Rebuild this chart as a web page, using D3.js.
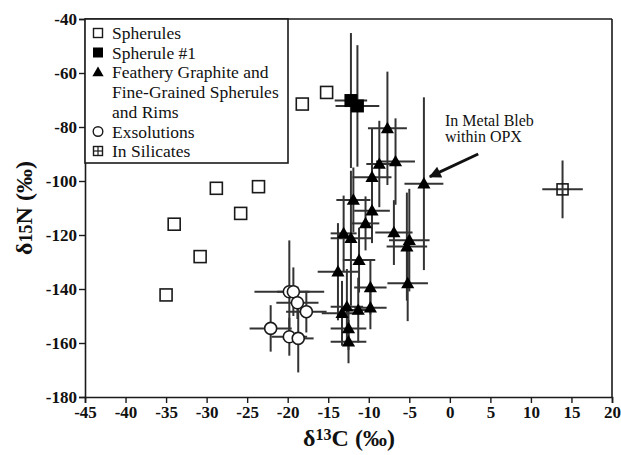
<!DOCTYPE html>
<html><head><meta charset="utf-8">
<script src="https://cdn.jsdelivr.net/npm/d3@7"></script>
<style>body{margin:0;background:#fff}svg{display:block}</style>
</head><body>
<svg id="c" width="621" height="455"></svg>
<script>
// Data: [d13C, d15N, xErr, yErr]
const spherules = [[-28.8,-102.7],[-23.6,-102.1],[-25.8,-112],[-34.0,-116],[-30.8,-128],[-35.0,-142.2],[-18.2,-71.5],[-15.2,-67.2]];
const spherule1 = [[-12.2,-70.2,2.0,25],[-11.4,-72.2,2.7,22.5]];
const feathery = [
 [-7.7,-80.5,2.4,21],[-8.7,-93.7,1.6,16],[-6.7,-92.8,2.4,16],[-9.6,-98.6,2.4,18],
 [-11.9,-107,2.1,12],[-9.6,-111,2.2,12],[-10.4,-115.7,1.7,10],[-13.1,-119.4,1.6,14],
 [-12.2,-121.2,2.5,25],[-6.9,-119.1,2.3,12],[-5.0,-121.9,2.5,19],[-5.3,-124.3,2.5,20],
 [-11.2,-129.3,2.0,12],[-13.8,-133.6,2.5,18],[-9.8,-139.4,2.0,10],[-5.2,-137.9,2.5,14],
 [-9.8,-146.9,2.0,8],[-12.7,-146.6,2.0,14],[-11.3,-147.8,2.0,12],[-13.3,-149,2.5,12],
 [-12.5,-154.6,2.2,8],[-12.5,-159.5,2.2,8],[-3.2,-101,2.4,32]
];
const exsolutions = [[-19.8,-141,4.3,19],[-19.3,-141,2.0,9],[-18.8,-145.1,2.6,6],[-17.7,-148.4,2.5,7.7],[-22.1,-154.6,2.6,8.6],[-19.8,-157.7,2.2,7],[-18.7,-158.3,1.9,12.6]];
const silicates = [[13.9,-103.1,2.5,10.7]];
const xTicks = [-45,-40,-35,-30,-25,-20,-15,-10,-5,0,5,10,15,20];
const yTicks = [-40,-60,-80,-100,-120,-140,-160,-180];
const legendLabels = [["Spherules"],["Spherule #1"],["Feathery Graphite and","Fine-Grained Spherules","and Rims"],["Exsolutions"],["In Silicates"]];
const annotation = ["In Metal Bleb","within OPX"];

const svg = d3.select("#c");
const L=85,R=612,T=19,B=397;
const x = d3.scaleLinear().domain([-45,20]).range([L,R]);
const y = d3.scaleLinear().domain([-180,-40]).range([B,T]);
const ink="#1a1a1a", bar="#333";
const serif="'Liberation Serif','Times New Roman',serif";
const fmt = d => String(d);

// axes
const xa = svg.append("g").attr("transform",`translate(0,${B})`).call(d3.axisBottom(x).tickValues(xTicks).tickFormat(fmt).tickSize(6).tickPadding(3));
const ya = svg.append("g").attr("transform",`translate(${L},0)`).call(d3.axisLeft(y).tickValues(yTicks).tickFormat(fmt).tickSize(6).tickPadding(2));
[xa,ya].forEach(a=>{a.attr("font-family",serif).attr("font-size",17).attr("font-weight","bold");
 a.select(".domain").attr("stroke",ink).attr("stroke-width",1.6);
 a.selectAll(".tick line").attr("stroke",ink).attr("stroke-width",1.4);
 a.selectAll("text").attr("fill","#111");});
// frame top/right
svg.append("line").attr("x1",L).attr("x2",R).attr("y1",T).attr("y2",T).attr("stroke",ink).attr("stroke-width",1.6);
svg.append("line").attr("x1",R).attr("x2",R).attr("y1",T).attr("y2",B).attr("stroke",ink).attr("stroke-width",1.6);

// axis titles
const xt = svg.append("text").attr("x",349).attr("y",446).attr("text-anchor","middle").attr("font-family",serif).attr("font-weight","bold").attr("font-size",24).attr("fill","#111");
xt.append("tspan").text("δ");
xt.append("tspan").attr("font-size",16).attr("dy",-6).text("13");
xt.append("tspan").attr("dy",6).text("C (‰)");
const yt = svg.append("text").attr("transform","translate(32,208) rotate(-90)").attr("text-anchor","middle").attr("font-family",serif).attr("font-weight","bold").attr("font-size",24).attr("fill","#111");
yt.append("tspan").text("δ");
yt.append("tspan").attr("font-size",18).text("15");
yt.append("tspan").text("N (‰)");

// error bars
function errbars(data){
  const g=svg.append("g").attr("stroke",bar).attr("stroke-width",2);
  data.forEach(d=>{
    g.append("line").attr("x1",x(d[0]-d[2])).attr("x2",x(d[0]+d[2])).attr("y1",y(d[1])).attr("y2",y(d[1]));
    g.append("line").attr("x1",x(d[0])).attr("x2",x(d[0])).attr("y1",y(d[1]-d[3])).attr("y2",y(d[1]+d[3]));
  });
}
errbars(spherule1); errbars(feathery); errbars(exsolutions); errbars(silicates);

// markers
svg.append("g").selectAll("rect").data(spherules).join("rect")
 .attr("x",d=>x(d[0])-6).attr("y",d=>y(d[1])-6).attr("width",12).attr("height",12)
 .attr("fill","#fff").attr("stroke",ink).attr("stroke-width",1.6);
svg.append("g").selectAll("rect").data(spherule1).join("rect")
 .attr("x",d=>x(d[0])-6.5).attr("y",d=>y(d[1])-6.5).attr("width",13).attr("height",13).attr("fill","#000");
const tri = d3.symbol().type(d3.symbolTriangle).size(75);
svg.append("g").selectAll("path").data(feathery).join("path")
 .attr("d",tri).attr("transform",d=>`translate(${x(d[0])},${y(d[1])+1})`).attr("fill","#000");
svg.append("g").selectAll("circle").data(exsolutions).join("circle")
 .attr("cx",d=>x(d[0])).attr("cy",d=>y(d[1])).attr("r",6)
 .attr("fill","#fff").attr("stroke",ink).attr("stroke-width",1.6);
svg.append("g").selectAll("rect").data(silicates).join("rect")
 .attr("x",d=>x(d[0])-5.5).attr("y",d=>y(d[1])-5.5).attr("width",11).attr("height",11)
 .attr("fill","none").attr("stroke",ink).attr("stroke-width",1.6);

// annotation
const bleb = feathery[feathery.length-1];
svg.append("defs").append("marker").attr("id","ah").attr("viewBox","0 0 10 10").attr("refX",9).attr("refY",5)
 .attr("markerWidth",6).attr("markerHeight",4).attr("orient","auto").attr("markerUnits","strokeWidth")
 .append("path").attr("d","M0,0L10,5L0,10z").attr("fill","#111");
svg.append("line").attr("x1",x(3.5)).attr("y1",y(-90)).attr("x2",x(bleb[0])+6).attr("y2",y(bleb[1])-7)
 .attr("stroke","#111").attr("stroke-width",3).attr("marker-end","url(#ah)");
svg.append("g").selectAll("text").data(annotation).join("text")
 .attr("x",445).attr("y",(d,i)=>126+i*16).attr("font-family",serif).attr("font-size",16).attr("fill","#111").text(d=>d);

// legend
const lg = svg.append("g");
lg.append("rect").attr("x",L).attr("y",T).attr("width",203).attr("height",144).attr("fill","#fff").attr("stroke",ink).attr("stroke-width",1.6);
const rowY=[33,52.5,72,131.5,151];
const ix=98;
legendLabels.forEach((lines,i)=>{
  lines.forEach((t,j)=>lg.append("text").attr("x",112).attr("y",rowY[i]+6+j*19.8).attr("font-family",serif).attr("font-size",17.5).attr("fill","#111").text(t));
});
lg.append("rect").attr("x",ix-4.5).attr("y",rowY[0]-4.5).attr("width",9).attr("height",9).attr("fill","#fff").attr("stroke",ink).attr("stroke-width",1.4);
lg.append("rect").attr("x",ix-5).attr("y",rowY[1]-5).attr("width",10).attr("height",10).attr("fill","#000");
lg.append("path").attr("d",d3.symbol().type(d3.symbolTriangle).size(55)).attr("transform",`translate(${ix},${rowY[2]+1})`).attr("fill","#000");
lg.append("circle").attr("cx",ix).attr("cy",rowY[3]).attr("r",4.8).attr("fill","#fff").attr("stroke",ink).attr("stroke-width",1.4);
lg.append("rect").attr("x",ix-4.5).attr("y",rowY[4]-4.5).attr("width",9).attr("height",9).attr("fill","#fff").attr("stroke",ink).attr("stroke-width",1.4);
lg.append("line").attr("x1",ix-4.5).attr("x2",ix+4.5).attr("y1",rowY[4]).attr("y2",rowY[4]).attr("stroke",ink).attr("stroke-width",1.2);
lg.append("line").attr("x1",ix).attr("x2",ix).attr("y1",rowY[4]-4.5).attr("y2",rowY[4]+4.5).attr("stroke",ink).attr("stroke-width",1.2);
</script>
</body></html>
